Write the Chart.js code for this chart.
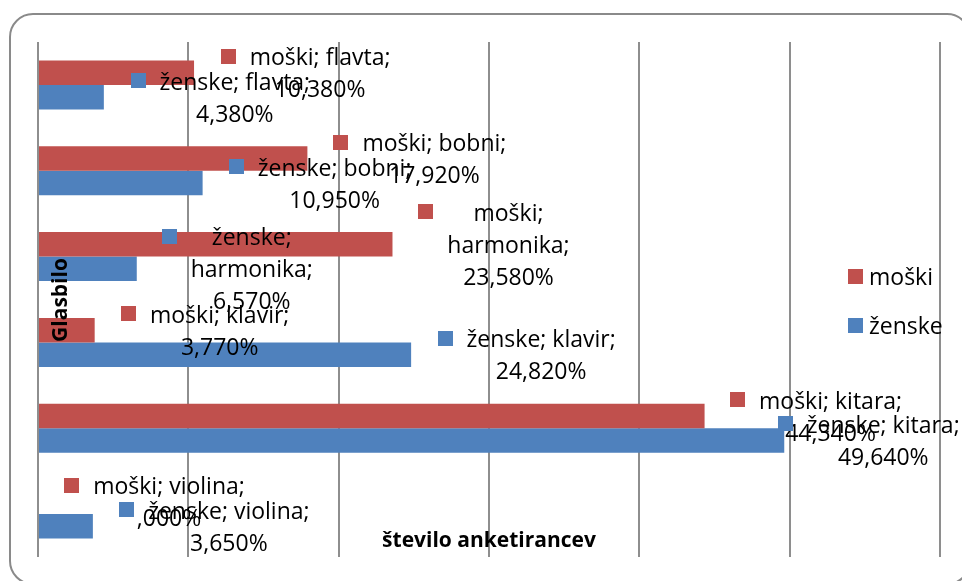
<!DOCTYPE html>
<html>
<head>
<meta charset="utf-8">
<script src="https://cdn.jsdelivr.net/npm/chart.js@4/dist/chart.umd.min.js"></script>
<style>
    body { margin: 0; background: #fff; overflow: hidden; }
    #wrap { position: relative; width: 962px; height: 581px; overflow: hidden; }
    #frame {
        position: absolute; left: 9px; top: 13px; width: 962px; height: 572px;
        box-sizing: border-box; border: 2px solid #8a8a8a; border-radius: 24px;
    }
    #chart { position: absolute; left: 0; top: 0; }
</style>
</head>
<body>
<div id="wrap">
    <div id="frame"></div>
    <canvas id="chart" width="962" height="581"></canvas>
</div>
<script>
const categories = ['flavta', 'bobni', 'harmonika', 'klavir', 'kitara', 'violina'];
const seriesNames = ['moški', 'ženske'];
const moskiValues = [10.38, 17.92, 23.58, 3.77, 44.34, 0];
const zenskeValues = [4.38, 10.95, 6.57, 24.82, 49.64, 3.65];
const xTicks = [0, 10, 20, 30, 40, 50, 60];

// where Excel dragged the data labels (text centre, px right of bar end)
const moskiLabelDx = [126, 127, 116, 125, 126, 131];
const zenskeLabelDx = [131, 132, 115, 130, 99, 136];
const wrappedCategories = ['harmonika'];

const FONT = '"Open Sans", "Noto Sans", sans-serif';
const LINE_H = 32;
const TEXT_NUDGE = 2; // Open Sans sits a bit high with baseline 'middle'

function fmtPct(v) {
    let s = v.toFixed(3).replace('.', ',');
    if (v < 1) s = s.replace(/^0/, '');
    return s + '%';
}

const excelLabels = {
    id: 'excelLabels',
    afterDatasetsDraw(chart) {
        const ctx = chart.ctx;
        ctx.save();
        ctx.font = '23px ' + FONT;
        ctx.textBaseline = 'middle';

        chart.data.datasets.forEach((ds, i) => {
            const meta = chart.getDatasetMeta(i);
            meta.data.forEach((bar, j) => {
                const cat = chart.data.labels[j];
                const val = fmtPct(ds.data[j]);
                const lines = wrappedCategories.includes(cat)
                    ? [ds.label + ';', cat + ';', val]
                    : [ds.label + '; ' + cat + ';', val];
                const cx = bar.x + ds.labelDx[j];
                const top = bar.y - (lines.length - 1) * LINE_H / 2;
                const w = Math.max(...lines.map(l => ctx.measureText(l).width));
                ctx.fillStyle = ds.backgroundColor;
                ctx.fillRect(Math.round(cx - w / 2 - 29), Math.round(top - 8), 15, 15);
                ctx.fillStyle = '#000';
                ctx.textAlign = 'center';
                lines.forEach((l, k) => ctx.fillText(l, cx, top + k * LINE_H + TEXT_NUDGE));
            });
        });

        // legend on the right
        chart.data.datasets.forEach((ds, i) => {
            ctx.fillStyle = ds.backgroundColor;
            ctx.fillRect(848, 269 + i * 49, 15, 15);
            ctx.fillStyle = '#000';
            ctx.textAlign = 'left';
            ctx.fillText(ds.label, 869, 276 + i * 49 + TEXT_NUDGE);
        });

        // axis titles, placed inside the plot like the original
        ctx.font = 'bold 21px ' + FONT;
        ctx.fillStyle = '#000';
        ctx.textAlign = 'center';
        ctx.fillText('število anketirancev', 489, 539 + TEXT_NUDGE);
        ctx.translate(59 + TEXT_NUDGE, 300);
        ctx.rotate(-Math.PI / 2);
        ctx.fillText('Glasbilo', 0, 0);
        ctx.restore();
    }
};

new Chart(document.getElementById('chart'), {
    type: 'bar',
    data: {
        labels: categories,
        datasets: [
            {
                label: seriesNames[0],
                data: moskiValues,
                backgroundColor: '#C0504D',
                labelDx: moskiLabelDx,
                categoryPercentage: 0.57,
                barPercentage: 1.0
            },
            {
                label: seriesNames[1],
                data: zenskeValues,
                backgroundColor: '#4F81BD',
                labelDx: zenskeLabelDx,
                categoryPercentage: 0.57,
                barPercentage: 1.0
            }
        ]
    },
    options: {
        indexAxis: 'y',
        responsive: false,
        animation: false,
        devicePixelRatio: 1,
        layout: { padding: { left: 38, right: 22, top: 42, bottom: 24 } },
        plugins: {
            legend: { display: false },
            tooltip: { enabled: false }
        },
        scales: {
            x: {
                min: xTicks[0],
                max: xTicks[xTicks.length - 1],
                ticks: { display: false, stepSize: xTicks[1] - xTicks[0] },
                grid: { color: '#8e8e8e', lineWidth: 2, drawTicks: false },
                border: { display: false }
            },
            y: {
                ticks: { display: false },
                grid: { display: false, drawTicks: false },
                border: { display: false }
            }
        }
    },
    plugins: [excelLabels]
});
</script>
</body>
</html>
